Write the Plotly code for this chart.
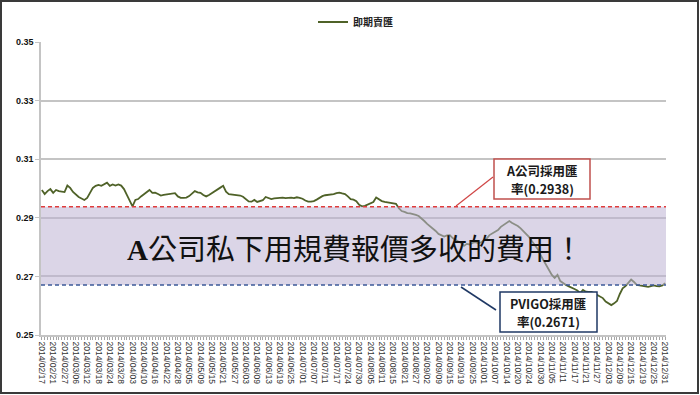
import plotly.graph_objects as go
import pandas as pd

# ---------------- data ----------------
holidays = ["2014-02-28", "2014-04-04", "2014-05-01", "2014-06-02",
            "2014-07-23", "2014-09-08", "2014-10-10"]
dates = [d.strftime("%Y/%m/%d") for d in pd.bdate_range("2014-02-17", "2014-12-31")
         if d.strftime("%Y-%m-%d") not in holidays]

spot_sell = [
    0.2995, 0.2981, 0.2991, 0.2998, 0.2985, 0.2995, 0.2991, 0.2990, 0.2988, 0.3010,
    0.3002, 0.2988, 0.2978, 0.2971, 0.2966, 0.2961, 0.2968, 0.2985, 0.3002, 0.3009,
    0.3012, 0.3009, 0.3014, 0.3020, 0.3009, 0.3014, 0.3010, 0.3014, 0.3010, 0.2998,
    0.2978, 0.2957, 0.2939, 0.2961, 0.2964, 0.2973, 0.2980, 0.2988, 0.2995, 0.2985,
    0.2986, 0.2981, 0.2976, 0.2978, 0.2980, 0.2981, 0.2982, 0.2984, 0.2973, 0.2968,
    0.2968, 0.2969, 0.2974, 0.2983, 0.2991, 0.2987, 0.2985, 0.2978, 0.2973, 0.2978,
    0.2985, 0.2991, 0.2997, 0.3003, 0.3009, 0.2989, 0.2981, 0.2980, 0.2978, 0.2978,
    0.2976, 0.2972, 0.2963, 0.2956, 0.2955, 0.2961, 0.2954, 0.2956, 0.2960, 0.2971,
    0.2968, 0.2964, 0.2966, 0.2967, 0.2968, 0.2969, 0.2967, 0.2968, 0.2969, 0.2967,
    0.2970, 0.2968, 0.2965, 0.2959, 0.2955, 0.2955, 0.2957, 0.2962, 0.2969, 0.2974,
    0.2977, 0.2978, 0.2980, 0.2981, 0.2984, 0.2986, 0.2983, 0.2981, 0.2973, 0.2964,
    0.2962, 0.2957, 0.2944, 0.2939, 0.2941, 0.2946, 0.2949, 0.2954, 0.2969, 0.2963,
    0.2957, 0.2954, 0.2952, 0.2951, 0.2950, 0.2948, 0.2933, 0.2923, 0.2920, 0.2916,
    0.2915, 0.2913, 0.2910, 0.2906, 0.2899, 0.2889, 0.2879, 0.2872, 0.2864, 0.2855,
    0.2845, 0.2840, 0.2836, 0.2840, 0.2841, 0.2831, 0.2824, 0.2819, 0.2814, 0.2804,
    0.2811, 0.2809, 0.2814, 0.2817, 0.2814, 0.2816, 0.2823, 0.2829, 0.2841, 0.2847,
    0.2850, 0.2858, 0.2869, 0.2875, 0.2880, 0.2889, 0.2882, 0.2877, 0.2872, 0.2864,
    0.2855, 0.2845, 0.2834, 0.2820, 0.2807, 0.2794, 0.2773, 0.2756, 0.2739, 0.2718,
    0.2705, 0.2695, 0.2705, 0.2684, 0.2676, 0.2671, 0.2666, 0.2660, 0.2657, 0.2652,
    0.2643, 0.2654, 0.2648, 0.2647, 0.2647, 0.2642, 0.2637, 0.2631, 0.2626, 0.2614,
    0.2608, 0.2602, 0.2608, 0.2616, 0.2640, 0.2659, 0.2667, 0.2677, 0.2689, 0.2681,
    0.2671, 0.2669, 0.2667, 0.2666, 0.2664, 0.2667, 0.2669, 0.2667, 0.2666, 0.2669, 0.2677,
]

rate_a = 0.2938
rate_pvigo = 0.2671
series_name = "即期賣匯"
headline = "A公司私下用規費報價多收的費用！"
label_a_lines = ["A公司採用匯", "率(0.2938)"]
label_pvigo_lines = ["PVIGO採用匯", "率(0.2671)"]
y_ticks = [0.25, 0.27, 0.29, 0.31, 0.33, 0.35]
tick_every = 4

# ---------------- layout helpers (pixel -> paper) ----------------
W, H = 700, 395
L, R, T, B = 41, 666, 42, 335
PW, PH = R - L, B - T


def px(x):
    return (x - L) / PW


def py(y):
    return (B - y) / PH


CJK = "Noto Sans CJK TC"
GRID = "#c4c4c4"

fig = go.Figure()
fig.add_trace(go.Scatter(
    x=dates, y=spot_sell, mode="lines", name="<b>" + series_name + "</b>",
    line=dict(color="#4f6228", width=1.8), showlegend=True, hoverinfo="skip",
))

shapes = [
    # shaded band between the two rates
    dict(type="rect", xref="paper", yref="y", x0=0, x1=1, y0=rate_pvigo, y1=rate_a,
         fillcolor="rgba(190,178,212,0.55)", line=dict(width=0), layer="above"),
    dict(type="line", xref="paper", yref="y", x0=0, x1=1, y0=rate_a, y1=rate_a,
         line=dict(color="#e03c3c", width=1.5, dash="4px,3px"), layer="above"),
    dict(type="line", xref="paper", yref="y", x0=0, x1=1, y0=rate_pvigo, y1=rate_pvigo,
         line=dict(color="#3d5a99", width=1.5, dash="4px,3px"), layer="above"),
    # callout leaders
    dict(type="line", xref="paper", yref="paper", x0=px(493), y0=py(177), x1=px(456), y1=py(206),
         line=dict(color="#d04545", width=1.2), layer="above"),
    dict(type="line", xref="paper", yref="paper", x0=px(496), y0=py(310), x1=px(461), y1=py(287),
         line=dict(color="#1f3864", width=1.5), layer="above"),
    # callout boxes
    dict(type="rect", xref="paper", yref="paper", x0=px(494), x1=px(590), y0=py(199), y1=py(159),
         fillcolor="white", line=dict(color="#c0504d", width=1.5), layer="above"),
    dict(type="rect", xref="paper", yref="paper", x0=px(500), x1=px(597), y0=py(332), y1=py(292),
         fillcolor="white", line=dict(color="#1f3864", width=1.5), layer="above"),
    # outer frame
    dict(type="rect", xref="paper", yref="paper", x0=px(1), x1=px(698), y0=py(393), y1=py(1),
         fillcolor="rgba(0,0,0,0)", line=dict(color="#3a3a3a", width=2), layer="above"),
]

annotations = [
    dict(xref="paper", yref="y", x=px(355), y=0.2800, showarrow=False,
         xanchor="center", yanchor="middle",
         text="<span style=\"font-family:'Liberation Serif'\"><b>A</b></span>" + headline[1:],
         font=dict(family=CJK, size=29, color="#111111")),
]
for (cx, cys, lines) in [(542, (170.5, 188.5), label_a_lines), (548, (303, 321), label_pvigo_lines)]:
    for cy, txt in zip(cys, lines):
        annotations.append(dict(
            xref="paper", yref="paper", x=px(cx), y=py(cy), showarrow=False,
            xanchor="center", yanchor="middle", text="<b>" + txt + "</b>",
            font=dict(family=CJK, size=12.5, color="#1a1a1a")))

ticktext = [d if i % tick_every == 0 else "" for i, d in enumerate(dates)]

fig.update_layout(
    width=W, height=H,
    margin=dict(l=L, r=W - R, t=T, b=H - B, autoexpand=False),
    paper_bgcolor="white", plot_bgcolor="white",
    shapes=shapes, annotations=annotations,
    showlegend=True, hovermode=False,
    legend=dict(orientation="h", x=px(313), xanchor="left", y=py(22), yanchor="middle",
                font=dict(family=CJK, size=10, color="#222222"),
                bgcolor="rgba(0,0,0,0)", itemwidth=30),
    xaxis=dict(type="category", range=[-0.3, len(dates) - 1 + 0.3],
               tickmode="array", tickvals=dates, ticktext=ticktext,
               tickangle=90, tickfont=dict(family="Liberation Sans", size=8.5, color="#333333"),
               ticks="outside", ticklen=3, tickcolor="#a6a6a6", tickwidth=1,
               showgrid=False, showline=True, linecolor=GRID, linewidth=1.5,
               automargin=False, zeroline=False),
    yaxis=dict(range=[0.25, 0.35], tickmode="array", tickvals=y_ticks,
               ticktext=[f"{v:.2f}" for v in y_ticks],
               tickfont=dict(family="Liberation Sans", size=9, color="#111111", weight="bold"),
               ticks="outside", ticklen=4, tickcolor=GRID,
               showgrid=True, gridcolor=GRID, gridwidth=1.5,
               showline=True, linecolor=GRID, linewidth=1.5,
               automargin=False, zeroline=False),
)

fig.write_html("out.html", config={"displayModeBar": False},
               post_script="document.body.style.margin='0';document.body.style.padding='0';")
